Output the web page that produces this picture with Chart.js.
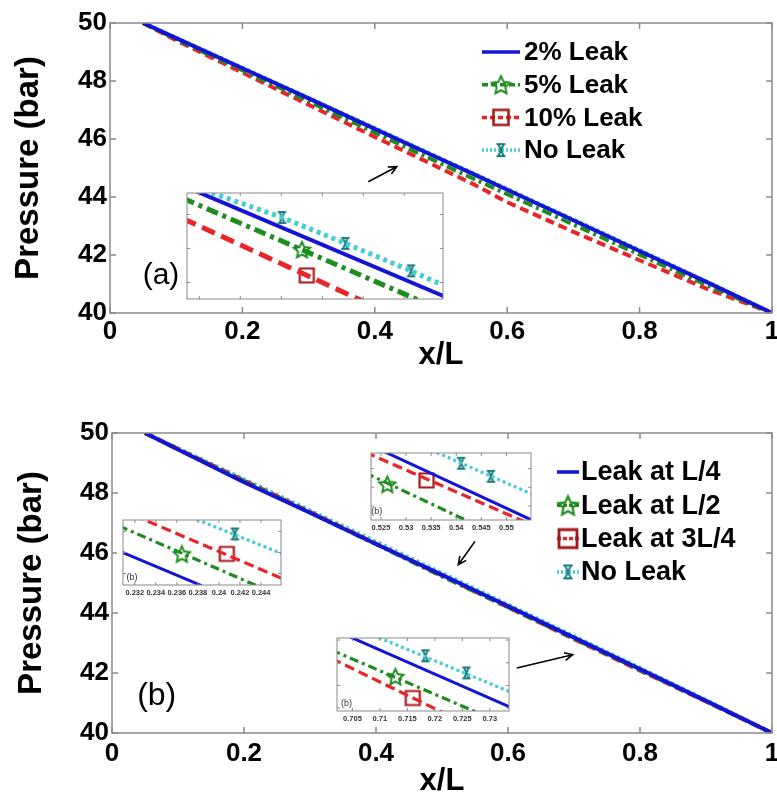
<!DOCTYPE html>
<html>
<head>
<meta charset="utf-8">
<title>Pressure along the pipe</title>
<script src="https://cdn.jsdelivr.net/npm/chart.js@4.4.1/dist/chart.umd.min.js"></script>
<style>
  html, body { margin: 0; padding: 0; background: #fff; }
  body { width: 777px; height: 793px; position: relative; overflow: hidden; }
  canvas { position: absolute; }
  .inset { background: #fff; }
</style>
</head>
<body>
<canvas id="mainA" width="777" height="390" style="left:0;top:0"></canvas>
<canvas id="mainB" width="777" height="420" style="left:0;top:390px"></canvas>
<canvas id="inA" class="inset" width="268" height="118" style="left:181px;top:187px"></canvas>
<canvas id="inB1" class="inset" width="170" height="85" style="left:117px;top:514px"></canvas>
<canvas id="inB2" class="inset" width="172" height="87" style="left:365px;top:447px"></canvas>
<canvas id="inB3" class="inset" width="184" height="93" style="left:331px;top:632px"></canvas>
<script>
// ---- data ----
// main curves, x/L positions
const xPos = [0.05, 0.1, 0.2, 0.3, 0.4, 0.5, 0.55, 0.6, 0.7, 0.8, 0.9, 1.0];

// (a) leak size
const labelsA = ['2% Leak', '5% Leak', '10% Leak', 'No Leak'];
const a_leak2  = [50, 49.48, 48.44, 47.40, 46.35, 45.30, 44.78, 44.25, 43.20, 42.14, 41.08, 40];
const a_leak5  = [50, 49.44, 48.37, 47.30, 46.22, 45.15, 44.62, 44.10, 43.05, 42.01, 40.98, 40];
const a_leak10 = [50, 49.40, 48.29, 47.18, 46.07, 44.98, 44.43, 43.82, 42.80, 41.82, 40.85, 40];
const a_noLeak = [50, 49.49, 48.46, 47.42, 46.38, 45.33, 44.81, 44.28, 43.23, 42.17, 41.10, 40];

// (b) leak location
const labelsB = ['Leak at L/4', 'Leak at L/2', 'Leak at 3L/4', 'No Leak'];
const b_quarter  = [50, 49.45, 48.36, 47.34, 46.30, 45.27, 44.75, 44.23, 43.18, 42.13, 41.07, 40];
const b_half     = [50, 49.46, 48.40, 47.35, 46.29, 45.22, 44.71, 44.19, 43.15, 42.10, 41.06, 40];
const b_3quarter = [50, 49.47, 48.42, 47.37, 46.31, 45.25, 44.72, 44.19, 43.13, 42.08, 41.05, 40];
const b_noLeak   = [50, 49.49, 48.46, 47.42, 46.38, 45.33, 44.81, 44.28, 43.23, 42.17, 41.10, 40];

// zoomed insets: [x, y] pairs, markers separately
const inA_leak2   = [[0.429765, 46.0351], [0.442066, 45.8782]];
const inA_leak5   = [[0.429202, 46.0237], [0.440798, 45.8728]];
const inA_leak10  = [[0.429202, 45.9940], [0.437981, 45.8727]];
const inA_noLeak  = [[0.430235, 46.0355], [0.434038, 45.9956], [0.437122, 45.9575], [0.440329, 45.9172], [0.441817, 45.8970]];
const inA_mk5     = [[0.435009, 45.9485]];
const inA_mk10    = [[0.435244, 45.9105]];
const inA_mkNo    = [[0.434038, 45.9956], [0.437122, 45.9575], [0.440329, 45.9172]];

const inB1_quarter  = [[0.230496, 48.0040], [0.238345, 47.9212]];
const inB1_half     = [[0.230496, 48.0633], [0.243697, 47.9197]];
const inB1_3quarter = [[0.231924, 48.0885], [0.246194, 47.9361]];
const inB1_noLeak   = [[0.236829, 48.0894], [0.246194, 47.9951]];
const inB1_mkHalf   = [[0.236472, 47.9967]];
const inB1_mk3q     = [[0.240753, 47.9967]];
const inB1_mkNo     = [[0.241511, 48.0442]];

const inB2_quarter  = [[0.524708, 45.103], [0.555653, 44.717]];
const inB2_half     = [[0.521895, 44.9775], [0.542525, 44.7165]];
const inB2_3quarter = [[0.521895, 45.088], [0.553403, 44.7185]];
const inB2_noLeak   = [[0.535023, 45.099], [0.555653, 44.857]];
const inB2_mkHalf   = [[0.526265, 44.9165]];
const inB2_mk3q     = [[0.534085, 44.937]];
const inB2_mkNo     = [[0.540968, 45.0285], [0.546895, 44.9585]];

const inB3_quarter  = [[0.703621, 43.1237], [0.734310, 42.7977]];
const inB3_half     = [[0.701207, 43.0558], [0.727759, 42.780]];
const inB3_3quarter = [[0.701207, 43.0187], [0.721552, 42.7792]];
const inB3_noLeak   = [[0.708793, 43.1208], [0.734310, 42.8652]];
const inB3_mkHalf   = [[0.712810, 42.9389]];
const inB3_mk3q     = [[0.715983, 42.8442]];
const inB3_mkNo     = [[0.718276, 43.0307], [0.725741, 42.9549]];

// ---- look ----
const FONT = '"Liberation Sans", Arial, Helvetica, sans-serif';
const BLUE = '#1414d4', GREEN = '#1e8c1e', RED = '#e8262a', CYAN = '#45cdd6';
const SQUARE = '#a31818', TEAL = '#1f7f80';

function markCanvas(kind, size, color, lw) {
  const c = document.createElement('canvas');
  c.width = c.height = Math.ceil(size + lw * 2 + 2);
  const g = c.getContext('2d');
  g.translate(c.width / 2, c.height / 2);
  g.strokeStyle = color;
  g.lineWidth = lw;
  const r = size / 2;
  g.beginPath();
  if (kind === 'star') {
    for (let i = 0; i < 10; i++) {
      const ang = -Math.PI / 2 + i * Math.PI / 5;
      const rr = i % 2 ? r * 0.48 : r;
      g.lineTo(rr * Math.cos(ang), rr * Math.sin(ang) + r * 0.1);
    }
    g.closePath();
  } else if (kind === 'square') {
    g.rect(-r, -r, size, size);
  } else {
    g.moveTo(-r * 0.75, -r); g.lineTo(r * 0.75, -r);
    g.moveTo(-r * 0.75, r);  g.lineTo(r * 0.75, r);
    g.moveTo(-r * 0.45, -r); g.lineTo(r * 0.45, r);
    g.moveTo(r * 0.45, -r);  g.lineTo(-r * 0.45, r);
  }
  g.stroke();
  return c;
}

const fmt = v => String(Number(v.toFixed(4)));
const pts = arr => arr.map(p => ({x: p[0], y: p[1]}));
const ser = (ys) => ys.map((y, i) => ({x: xPos[i], y}));

// box with inward ticks on all four sides (MATLAB look)
const frame = {
  id: 'frame',
  afterDatasetsDraw(chart, args, o) {
    const {ctx, chartArea: a, scales} = chart;
    ctx.save();
    ctx.strokeStyle = o.color;
    ctx.lineWidth = o.width;
    ctx.strokeRect(a.left, a.top, a.right - a.left, a.bottom - a.top);
    ctx.beginPath();
    scales.x.ticks.forEach(t => {
      const p = scales.x.getPixelForValue(t.value);
      ctx.moveTo(p, a.bottom); ctx.lineTo(p, a.bottom - o.len);
      ctx.moveTo(p, a.top); ctx.lineTo(p, a.top + o.len);
    });
    scales.y.ticks.forEach(t => {
      const p = scales.y.getPixelForValue(t.value);
      ctx.moveTo(a.left, p); ctx.lineTo(a.left + o.len, p);
      ctx.moveTo(a.right, p); ctx.lineTo(a.right - o.len, p);
    });
    ctx.stroke();
    ctx.restore();
  }
};

// legend drawn inside the plot
const keyBox = {
  id: 'keyBox',
  afterDraw(chart, args, o) {
    if (!o.show) return;
    const {ctx, chartArea: a} = chart;
    chart.data.datasets.forEach((ds, i) => {
      const y = a.top + o.top + i * o.rowH;
      const x0 = a.left + o.left;
      ctx.save();
      ctx.strokeStyle = ds.borderColor;
      ctx.lineWidth = o.lineW;
      ctx.setLineDash(ds.keyDash || ds.borderDash || []);
      ctx.beginPath(); ctx.moveTo(x0, y); ctx.lineTo(x0 + o.sampleW, y); ctx.stroke();
      if (ds.keyMark) {
        const m = ds.keyMark;
        ctx.drawImage(m, x0 + o.sampleW / 2 - m.width / 2, y - m.height / 2);
      }
      ctx.fillStyle = '#000';
      ctx.font = 'bold ' + o.size + 'px ' + FONT;
      ctx.textBaseline = 'middle';
      ctx.fillText(ds.label, x0 + o.sampleW + o.gap, y + 1);
      ctx.restore();
    });
  }
};

// arrows and panel tags, placed in data coordinates
const notes = {
  id: 'notes',
  afterDraw(chart, args, o) {
    const {ctx, scales: {x, y}} = chart;
    ctx.save();
    (o.arrows || []).forEach(ar => {
      const x0 = x.getPixelForValue(ar[0]), y0 = y.getPixelForValue(ar[1]);
      const x1 = x.getPixelForValue(ar[2]), y1 = y.getPixelForValue(ar[3]);
      const ang = Math.atan2(y1 - y0, x1 - x0);
      ctx.strokeStyle = '#000';
      ctx.lineWidth = 1.6;
      ctx.beginPath();
      ctx.moveTo(x0, y0); ctx.lineTo(x1, y1);
      ctx.moveTo(x1 - 9 * Math.cos(ang - 0.45), y1 - 9 * Math.sin(ang - 0.45));
      ctx.lineTo(x1, y1);
      ctx.lineTo(x1 - 9 * Math.cos(ang + 0.45), y1 - 9 * Math.sin(ang + 0.45));
      ctx.stroke();
    });
    (o.tags || []).forEach(t => {
      ctx.fillStyle = t.color || '#000';
      ctx.font = t.size + 'px ' + FONT;
      ctx.textAlign = 'center';
      ctx.textBaseline = 'middle';
      ctx.fillText(t.text, x.getPixelForValue(t.x), y.getPixelForValue(t.y));
    });
    ctx.restore();
  }
};

const tickFont = {family: FONT, size: 26, weight: 'bold'};

function mainChart(id, labels, ys, marks, geo) {
  const looks = [
    {color: BLUE, dash: []},
    {color: GREEN, dash: [10, 4, 3, 4]},
    {color: RED, dash: [9, 5]},
    {color: CYAN, dash: [3, 3]}
  ];
  return new Chart(document.getElementById(id), {
    type: 'line',
    data: {
      datasets: ys.map((s, i) => ({
        label: labels[i],
        data: ser(s),
        borderColor: looks[i].color,
        borderDash: looks[i].dash,
        borderWidth: 4,
        pointRadius: 0,
        keyMark: marks[i],
        keyDash: geo.keyDash[i]
      }))
    },
    options: {
      responsive: false,
      animation: false,
      layout: {padding: {top: geo.top, right: 5, left: 0, bottom: 0}},
      plugins: {
        legend: {display: false},
        tooltip: {enabled: false},
        frame: {color: '#8a8a8a', width: 1.5, len: 6},
        keyBox: Object.assign({show: true, lineW: 3.5}, geo.key),
        notes: {arrows: geo.arrows, tags: geo.tags}
      },
      scales: {
        x: {
          type: 'linear', min: 0, max: 1,
          grid: {display: false, drawTicks: false}, border: {display: false},
          ticks: {stepSize: 0.2, font: tickFont, color: '#000', padding: geo.xlPad, maxRotation: 0, autoSkip: false, callback: fmt},
          title: {display: true, text: 'x/L', color: '#000', font: {family: FONT, size: 31, weight: 'bold'}, padding: {top: 0, bottom: geo.xtPad}},
          afterFit: s => { s.height = geo.xH; s.paddingLeft = 0; s.paddingRight = 0; }
        },
        y: {
          type: 'linear', min: 40, max: 50,
          grid: {display: false, drawTicks: false}, border: {display: false},
          ticks: {stepSize: 2, font: tickFont, color: '#000', padding: 3, callback: fmt},
          title: {display: true, text: 'Pressure (bar)', color: '#000', font: {family: FONT, size: 33, weight: 'bold'}, padding: {top: geo.ytPad, bottom: 0}},
          afterFit: s => { s.width = geo.yW; s.paddingTop = 0; s.paddingBottom = 0; }
        }
      }
    },
    plugins: [frame, keyBox, notes]
  });
}

function insetChart(id, xr, yr, lines, marks, looks, showLabels, tag) {
  const sets = [];
  lines.forEach((l, i) => sets.push({
    data: pts(l), borderColor: looks[i].color, borderDash: looks[i].dash,
    borderWidth: looks[i].w, pointRadius: 0
  }));
  marks.forEach(m => sets.push({
    data: pts(m.at), showLine: false, pointStyle: m.img, pointRadius: 5
  }));
  return new Chart(document.getElementById(id), {
    type: 'line',
    data: {datasets: sets},
    options: {
      responsive: false,
      animation: false,
      layout: {padding: {top: 1, left: 1, right: 1, bottom: showLabels ? 0 : 1}},
      plugins: {
        legend: {display: false},
        tooltip: {enabled: false},
        frame: {color: '#8a8a8a', width: 1, len: 3},
        keyBox: {show: false},
        notes: {tags: tag ? [tag] : []}
      },
      scales: {
        x: {
          type: 'linear', min: xr[0], max: xr[1],
          grid: {display: false, drawTicks: false}, border: {display: false},
          ticks: {display: showLabels, stepSize: xr[2], includeBounds: false, autoSkip: false, maxRotation: 0,
                  font: {family: FONT, size: 7.5, weight: 'bold'}, color: '#333', padding: 3, callback: fmt},
          afterFit: s => { s.height = showLabels ? 14 : 0; s.paddingLeft = 0; s.paddingRight = 0; }
        },
        y: {
          type: 'linear', min: yr[0], max: yr[1],
          grid: {display: false, drawTicks: false}, border: {display: false},
          ticks: {display: false, stepSize: yr[2], includeBounds: false},
          afterFit: s => { s.width = 0; s.paddingTop = 0; s.paddingBottom = 0; }
        }
      }
    },
    plugins: [frame, notes]
  });
}

// marker images
const starKeyA = markCanvas('star', 19, GREEN, 2);
const sqKeyA = markCanvas('square', 15, SQUARE, 2.5);
const hgKeyA = markCanvas('hour', 12, TEAL, 2);
const starKeyB = markCanvas('star', 20, GREEN, 2.2);
const sqKeyB = markCanvas('square', 18, SQUARE, 2.8);
const hgKeyB = markCanvas('hour', 13, TEAL, 2);
const starIn = markCanvas('star', 17, GREEN, 2);
const sqIn = markCanvas('square', 14, SQUARE, 2.2);
const hgIn = markCanvas('hour', 11, TEAL, 2);

mainChart('mainA', labelsA, [a_leak2, a_leak5, a_leak10, a_noLeak],
  [null, starKeyA, sqKeyA, hgKeyA], {
    top: 23, xH: 77, yW: 110, xtPad: 16, ytPad: 9, xlPad: 3,
    keyDash: [[], [6, 3], [5, 3], [2, 2]],
    key: {left: 372, top: 29, rowH: 32.7, sampleW: 38, gap: 4, size: 26},
    arrows: [[0.3902, 44.527, 0.4331, 45.045]],
    tags: [{text: '(a)', x: 0.077, y: 41.28, size: 30}]
  });

mainChart('mainB', labelsB, [b_quarter, b_half, b_3quarter, b_noLeak],
  [null, starKeyB, sqKeyB, hgKeyB], {
    top: 43, xH: 77, yW: 112, xtPad: 10, ytPad: 12, xlPad: 5,
    keyDash: [[], [4, 2], [4, 2], [2, 2]],
    key: {left: 445, top: 39, rowH: 33.3, sampleW: 22, gap: 2, size: 27},
    arrows: [[0.2091, 46.720, 0.2508, 47.220], [0.5500, 46.387, 0.5247, 45.610], [0.6132, 42.167, 0.6980, 42.610]],
    tags: [{text: '(b)', x: 0.0677, y: 41.22, size: 32}]
  });

const thickLooks = [
  {color: BLUE, dash: [], w: 4},
  {color: GREEN, dash: [12, 5, 4, 5], w: 5},
  {color: RED, dash: [14, 7], w: 5},
  {color: CYAN, dash: [4, 4], w: 5}
];
const thinLooks = [
  {color: BLUE, dash: [], w: 3},
  {color: GREEN, dash: [9, 4, 3, 4], w: 3.2},
  {color: RED, dash: [10, 5], w: 3.2},
  {color: CYAN, dash: [3, 3], w: 3.2}
];

insetChart('inA', [0.42940, 0.44189, 0.002], [45.8758, 46.0315, 0.05],
  [inA_leak2, inA_leak5, inA_leak10, inA_noLeak],
  [{at: inA_mk5, img: starIn}, {at: inA_mk10, img: sqIn}, {at: inA_mkNo, img: hgIn}],
  thickLooks, false, null);

insetChart('inB1', [0.23088, 0.2459, 0.002], [47.9226, 48.0774, 0.05],
  [inB1_quarter, inB1_half, inB1_3quarter, inB1_noLeak],
  [{at: inB1_mkHalf, img: starIn}, {at: inB1_mk3q, img: sqIn}, {at: inB1_mkNo, img: hgIn}],
  thinLooks, true, {text: '(b)', x: 0.231745, y: 47.9403, size: 9, color: '#333'});

insetChart('inB2', [0.52302, 0.5549, 0.005], [44.725, 45.0835, 0.1],
  [inB2_quarter, inB2_half, inB2_3quarter, inB2_noLeak],
  [{at: inB2_mkHalf, img: starIn}, {at: inB2_mk3q, img: sqIn}, {at: inB2_mkNo, img: hgIn}],
  thinLooks, true, {text: '(b)', x: 0.524145, y: 44.77, size: 9, color: '#333'});

insetChart('inB3', [0.70219, 0.7335, 0.005], [42.787, 43.109, 0.1],
  [inB3_quarter, inB3_half, inB3_3quarter, inB3_noLeak],
  [{at: inB3_mkHalf, img: starIn}, {at: inB3_mk3q, img: sqIn}, {at: inB3_mkNo, img: hgIn}],
  thinLooks, true, {text: '(b)', x: 0.703914, y: 42.818, size: 9, color: '#333'});
</script>
</body>
</html>
